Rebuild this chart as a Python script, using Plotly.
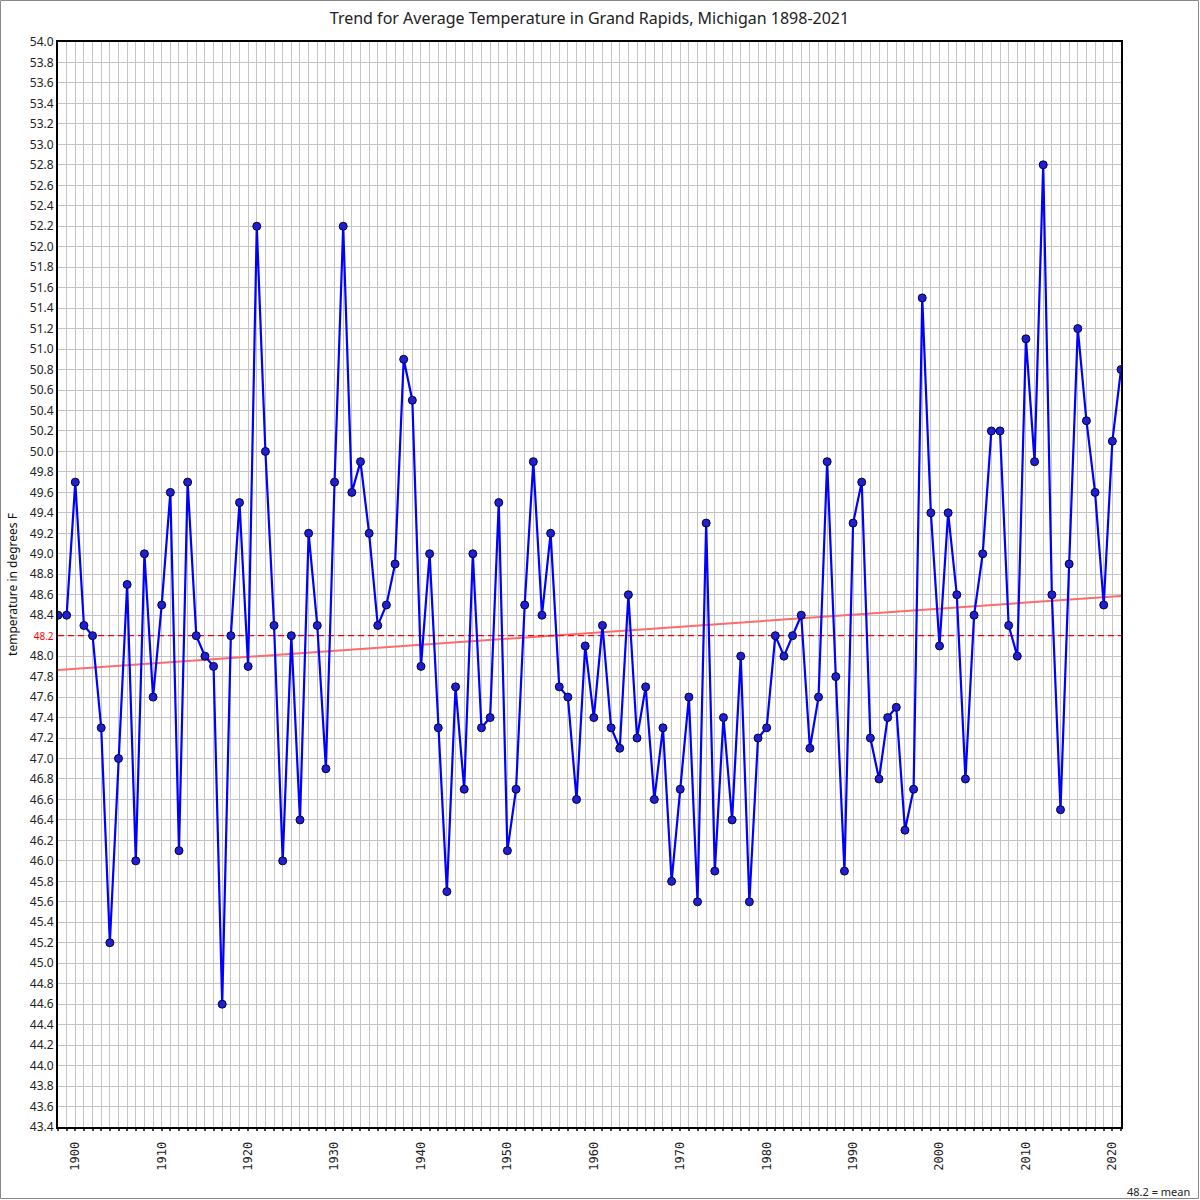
import numpy as np
import plotly.graph_objects as go

years = list(range(1898, 2022))
temps = [
    48.4, 48.4, 49.7, 48.3, 48.2, 47.3, 45.2, 47.0, 48.7, 46.0,  # 1898-1907
    49.0, 47.6, 48.5, 49.6, 46.1, 49.7, 48.2, 48.0, 47.9, 44.6,  # 1908-1917
    48.2, 49.5, 47.9, 52.2, 50.0, 48.3, 46.0, 48.2, 46.4, 49.2,  # 1918-1927
    48.3, 46.9, 49.7, 52.2, 49.6, 49.9, 49.2, 48.3, 48.5, 48.9,  # 1928-1937
    50.9, 50.5, 47.9, 49.0, 47.3, 45.7, 47.7, 46.7, 49.0, 47.3,  # 1938-1947
    47.4, 49.5, 46.1, 46.7, 48.5, 49.9, 48.4, 49.2, 47.7, 47.6,  # 1948-1957
    46.6, 48.1, 47.4, 48.3, 47.3, 47.1, 48.6, 47.2, 47.7, 46.6,  # 1958-1967
    47.3, 45.8, 46.7, 47.6, 45.6, 49.3, 45.9, 47.4, 46.4, 48.0,  # 1968-1977
    45.6, 47.2, 47.3, 48.2, 48.0, 48.2, 48.4, 47.1, 47.6, 49.9,  # 1978-1987
    47.8, 45.9, 49.3, 49.7, 47.2, 46.8, 47.4, 47.5, 46.3, 46.7,  # 1988-1997
    51.5, 49.4, 48.1, 49.4, 48.6, 46.8, 48.4, 49.0, 50.2, 50.2,  # 1998-2007
    48.3, 48.0, 51.1, 49.9, 52.8, 48.6, 46.5, 48.9, 51.2, 50.3,  # 2008-2017
    49.6, 48.5, 50.1, 50.8,                                      # 2018-2021
]
mean_value = 48.2
x_ticks = list(range(1900, 2021, 10))
y_ticks = [round(43.4 + 0.2 * i, 1) for i in range(54)]

slope, intercept = np.polyfit(years, temps, 1)
trend = [slope * y + intercept for y in years]

y_ticktext = []
for v in y_ticks:
    if abs(v - mean_value) < 1e-9:
        y_ticktext.append("<span style='color:red;font-size:10px'>%.1f</span>" % v)
    else:
        y_ticktext.append("%.1f" % v)

fig = go.Figure()
fig.add_trace(go.Scatter(
    x=years, y=trend, mode="lines",
    line=dict(color="#ff6a6a", width=2), showlegend=False))
fig.add_trace(go.Scatter(
    x=[years[0], years[-1]], y=[mean_value, mean_value], mode="lines",
    line=dict(color="#ff0000", width=1.3, dash="6px,4px"), hoverinfo="skip", showlegend=False))
fig.add_trace(go.Scatter(
    x=years, y=temps, mode="lines+markers",
    line=dict(color="#0000ff", width=2.2),
    marker=dict(size=8, color="#2020d0", line=dict(color="#000040", width=1)),
    showlegend=False))

W, H = 1200, 1200
ml, mr, mt, mb = 58, 79, 42, 73
pw, ph = W - ml - mr, H - mt - mb

fig.update_layout(
    width=W, height=H,
    margin=dict(l=ml, r=mr, t=mt, b=mb),
    paper_bgcolor="white", plot_bgcolor="white",
    font=dict(family="Noto Sans, Open Sans, sans-serif", color="#222"),
    title=dict(text="Trend for Average Temperature in Grand Rapids, Michigan 1898-2021",
               x=0.5, xref="paper", y=1 - 18 / H, yanchor="middle",
               font=dict(size=16, color="#222")),
    xaxis=dict(
        range=[1898, 2021], tickvals=x_ticks, ticktext=[str(t) for t in x_ticks],
        tickangle=-90, tickfont=dict(size=12, family="DejaVu Sans Mono", color="#222"),
        ticks="outside", ticklen=2, tickcolor="#444", tickwidth=2,
        showgrid=True, gridcolor="#c4c4c4", gridwidth=1,
        minor=dict(dtick=1, tick0=1898, showgrid=True, gridcolor="#c4c4c4", gridwidth=1,
                   ticks="outside", ticklen=2, tickcolor="#444", tickwidth=2),
        showline=True, linecolor="black", linewidth=2, mirror=True,
        zeroline=False, ticklabelstandoff=6,
    ),
    yaxis=dict(
        range=[43.4, 54.0], tickvals=y_ticks, ticktext=y_ticktext,
        tickfont=dict(size=12, color="#222"),
        showgrid=True, gridcolor="#c4c4c4", gridwidth=1,
        showline=True, linecolor="black", linewidth=2, mirror=True,
        zeroline=False, ticks="",
        title=dict(text="temperature in degrees F", font=dict(size=12, color="#111"), standoff=10),
    ),
    annotations=[dict(
        text="48.2 = mean", xref="paper", yref="paper",
        x=(W - 8 - ml) / pw, y=-(1191 - (mt + ph)) / ph,
        xanchor="right", yanchor="middle", showarrow=False,
        font=dict(size=11, color="#222"))],
    shapes=[dict(
        type="rect", xref="paper", yref="paper",
        x0=-(ml - 0.5) / pw, x1=1 + (mr - 1.5) / pw,
        y0=-(mb - 1.5) / ph, y1=1 + (mt - 0.5) / ph,
        line=dict(color="#888", width=1), fillcolor="rgba(0,0,0,0)", layer="above")],
)

fig.write_html("out.html", config={"displayModeBar": False},
               post_script="document.body.style.margin='0';document.body.style.overflow='hidden';")
